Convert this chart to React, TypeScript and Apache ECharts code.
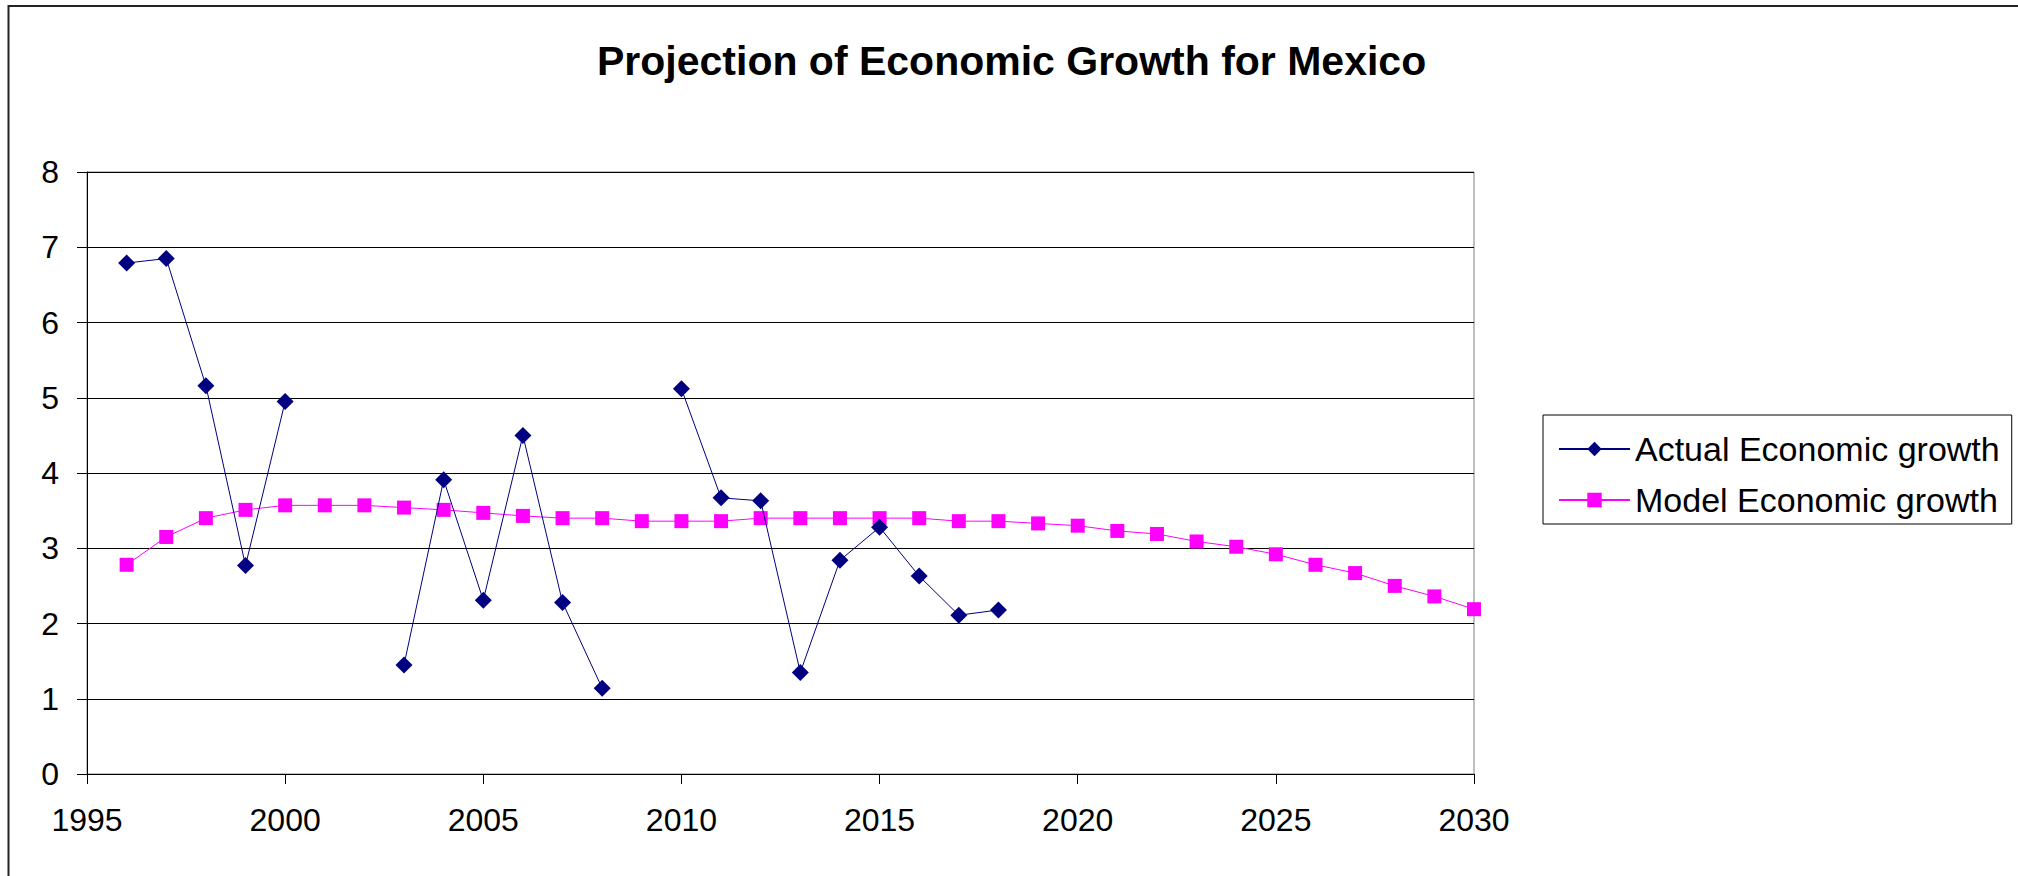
import React, { useEffect, useRef } from "react";
import * as echarts from "echarts";

const TITLE = "Projection of Economic Growth for Mexico";
const ACTUAL_NAME = "Actual Economic growth";
const MODEL_NAME = "Model Economic growth";

const actualYears = [1996, 1997, 1998, 1999, 2000, 2001, 2002, 2003, 2004, 2005, 2006, 2007, 2008, 2009, 2010, 2011, 2012, 2013, 2014, 2015, 2016, 2017, 2018];
const actualValues: (number | null)[] = [6.79, 6.85, 5.16, 2.77, 4.95, null, null, 1.45, 3.91, 2.31, 4.5, 2.28, 1.14, null, 5.12, 3.67, 3.63, 1.35, 2.84, 3.28, 2.63, 2.11, 2.18];

const modelYears = [1996, 1997, 1998, 1999, 2000, 2001, 2002, 2003, 2004, 2005, 2006, 2007, 2008, 2009, 2010, 2011, 2012, 2013, 2014, 2015, 2016, 2017, 2018, 2019, 2020, 2021, 2022, 2023, 2024, 2025, 2026, 2027, 2028, 2029, 2030];
const modelValues = [2.78, 3.15, 3.4, 3.51, 3.57, 3.57, 3.57, 3.54, 3.51, 3.47, 3.43, 3.4, 3.4, 3.36, 3.36, 3.36, 3.4, 3.4, 3.4, 3.4, 3.4, 3.36, 3.36, 3.33, 3.3, 3.23, 3.19, 3.09, 3.02, 2.92, 2.78, 2.67, 2.5, 2.36, 2.19];

const X_MIN = 1995;
const X_MAX = 2030;
const X_STEP = 5;
const Y_MIN = 0;
const Y_MAX = 8;
const Y_STEP = 1;

const FONT = "'Liberation Sans', Arial, sans-serif";

export default function App() {
  const ref = useRef<HTMLDivElement>(null);
  useEffect(() => {
    document.body.style.margin = "0";
    if (!ref.current) return;
    const chart = echarts.init(ref.current, undefined, { renderer: "svg" });
    const actualData = actualYears.map((y, i) => [y, actualValues[i] === null ? "-" : actualValues[i]]);
    const modelData = modelYears.map((y, i) => [y, modelValues[i]]);
    chart.setOption({
      animation: false,
      backgroundColor: "#ffffff",
      textStyle: { fontFamily: FONT },
      title: {
        text: TITLE,
        left: 597,
        top: 40,
        padding: 0,
        textStyle: { fontFamily: FONT, fontSize: 41, fontWeight: "bold", color: "#000" },
      },
      graphic: [
        {
          type: "rect",
          shape: { x: 8.5, y: 6, width: 2200, height: 1000 },
          style: { fill: "none", stroke: "#222", lineWidth: 2 },
          silent: true,
          z: -1,
        },
      ],
      legend: {
        orient: "vertical",
        left: 1543,
        top: 415,
        padding: [17, 12, 7, 15],
        itemGap: 17,
        itemWidth: 71,
        itemHeight: 18,
        borderColor: "#000",
        borderWidth: 1,
        textStyle: { fontFamily: FONT, fontSize: 34, color: "#000" },
        data: [ACTUAL_NAME, MODEL_NAME],
      },
      grid: {
        left: 87,
        top: 172,
        right: 2018 - 1474,
        bottom: 876 - 774,
        show: true,
        borderColor: "#808080",
        borderWidth: 1,
        containLabel: false,
      },
      xAxis: {
        type: "value",
        min: X_MIN,
        max: X_MAX,
        interval: X_STEP,
        axisLine: { show: true, lineStyle: { color: "#000", width: 1 } },
        axisTick: { show: true, length: 10, lineStyle: { color: "#000" } },
        axisLabel: {
          fontFamily: FONT,
          fontSize: 32,
          color: "#000",
          margin: 30,
          formatter: (v: number) => String(v),
        },
        splitLine: { show: false },
      },
      yAxis: {
        type: "value",
        min: Y_MIN,
        max: Y_MAX,
        interval: Y_STEP,
        axisLine: { show: true, lineStyle: { color: "#000", width: 1 } },
        axisTick: { show: true, length: 10, lineStyle: { color: "#000" } },
        axisLabel: { fontFamily: FONT, fontSize: 32, color: "#000", margin: 28 },
        splitLine: { show: true, lineStyle: { color: "#000", width: 1 } },
      },
      series: [
        {
          name: ACTUAL_NAME,
          type: "line",
          data: actualData,
          connectNulls: false,
          symbol: "diamond",
          symbolSize: 17,
          lineStyle: { color: "#000080", width: 1 },
          itemStyle: { color: "#000080" },
          z: 3,
        },
        {
          name: MODEL_NAME,
          type: "line",
          data: modelData,
          symbol: "rect",
          symbolSize: 14,
          lineStyle: { color: "#FF00FF", width: 1 },
          itemStyle: { color: "#FF00FF" },
          z: 2,
        },
      ],
    });
    return () => chart.dispose();
  }, []);
  return <div ref={ref} style={{ width: 2018, height: 876 }} />;
}
